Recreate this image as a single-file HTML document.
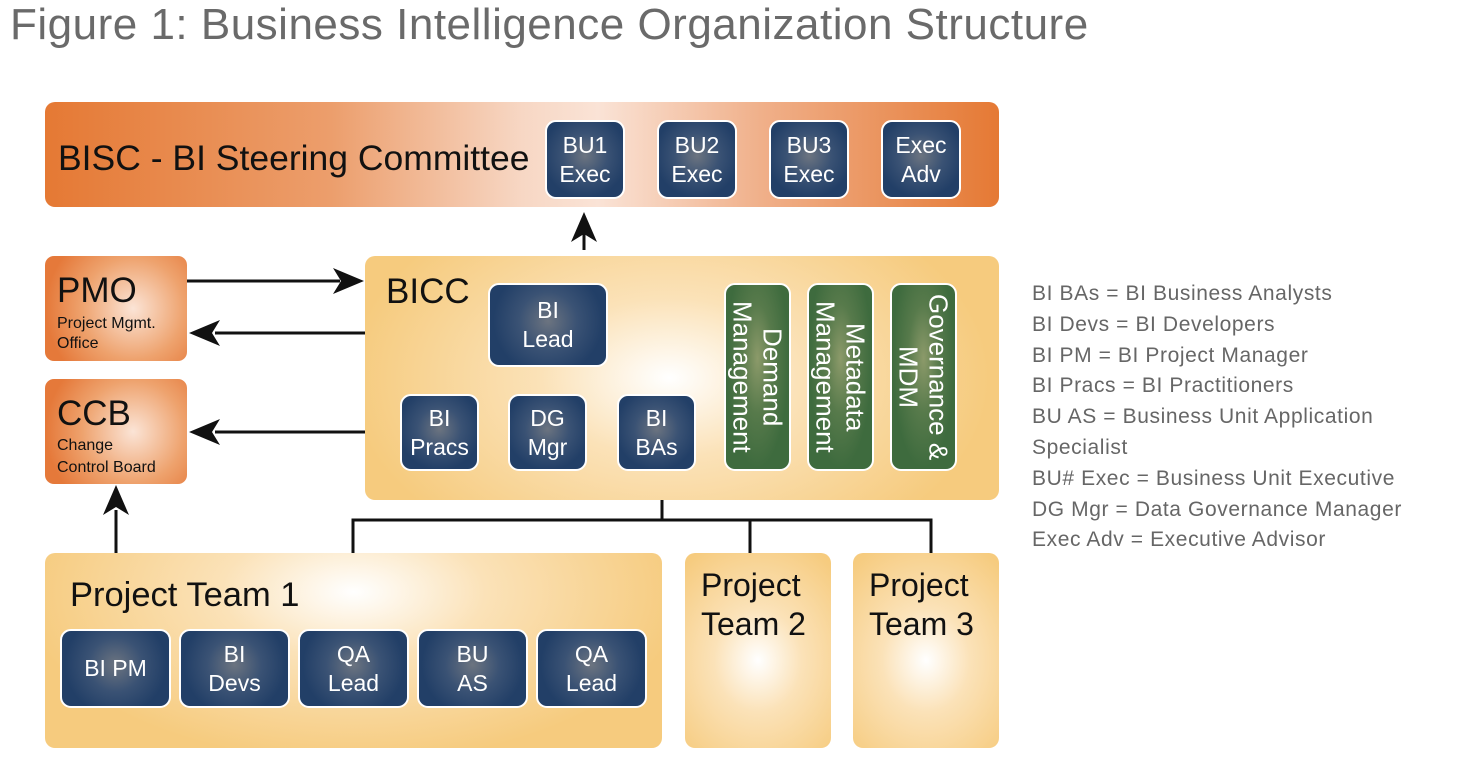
<!DOCTYPE html>
<html><head><meta charset="utf-8"><style>
*{margin:0;padding:0;box-sizing:border-box}
body{width:1468px;height:764px;background:#fff;position:relative;overflow:hidden;font-family:"Liberation Sans",sans-serif}
.a{position:absolute}
.t{position:absolute;left:10px;top:0px;font-size:44px;color:#6a6a6a;letter-spacing:0.5px;white-space:nowrap}
.b{position:absolute;border:2px solid #fff;border-radius:11px;background:radial-gradient(circle at 50% 45%,#6c7480 0%,#3a5274 40%,#223f67 75%);color:#fff;font-size:23px;line-height:29px;display:flex;align-items:center;justify-content:center;text-align:center}
.g{position:absolute;border:2px solid #fff;border-radius:11px;background:radial-gradient(ellipse at 50% 40%,#8c9a6a 0%,#577a4b 35%,#3e6b3e 70%);color:#fff;font-size:26px;line-height:30px;writing-mode:vertical-rl;display:flex;align-items:center;justify-content:center;text-align:center}
.o{position:absolute;border-radius:9px;background:radial-gradient(circle at 62% 50%,#fbe4d6 0%,#eea26d 50%,#e5793a 85%)}
.y{position:absolute;border-radius:10px}
.lg{position:absolute;left:1032px;top:279px;font-size:21px;letter-spacing:0.6px;line-height:30.8px;color:#666;white-space:nowrap}
</style></head><body>
<div class="t">Figure 1: Business Intelligence Organization Structure</div>

<div class="a" style="left:45px;top:102px;width:954px;height:105px;border-radius:10px;background:linear-gradient(90deg,#e57934 0%,#ec9e6c 30%,#f7d7c4 50%,#fae3d6 58%,#f0b08a 75%,#e57934 100%)"></div>
<div class="a" style="left:58px;top:138px;font-size:35.5px;color:#111;white-space:nowrap">BISC - BI Steering Committee</div>
<div class="b" style="left:545px;top:120px;width:80px;height:79px">BU1<br>Exec</div>
<div class="b" style="left:657px;top:120px;width:80px;height:79px">BU2<br>Exec</div>
<div class="b" style="left:769px;top:120px;width:80px;height:79px">BU3<br>Exec</div>
<div class="b" style="left:881px;top:120px;width:80px;height:79px">Exec<br>Adv</div>

<div class="o" style="left:45px;top:256px;width:142px;height:105px"></div>
<div class="a" style="left:57px;top:273px;font-size:35px;color:#111;line-height:36px">PMO</div>
<div class="a" style="left:57px;top:314px;font-size:16px;color:#111;line-height:20px">Project Mgmt.<br>Office</div>
<div class="o" style="left:45px;top:379px;width:142px;height:105px"></div>
<div class="a" style="left:57px;top:396px;font-size:35px;color:#111;line-height:36px">CCB</div>
<div class="a" style="left:57px;top:435px;font-size:16px;color:#111;line-height:22px">Change<br>Control Board</div>

<div class="y" style="left:365px;top:256px;width:634px;height:244px;background:radial-gradient(ellipse 320px 200px at 48% 50%,#fff 0%,#fbe2b8 40%,#f6cb7e 100%)"></div>
<div class="a" style="left:386px;top:272px;font-size:35px;color:#111;line-height:40px">BICC</div>
<div class="b" style="left:488px;top:283px;width:120px;height:84px">BI<br>Lead</div>
<div class="b" style="left:400px;top:394px;width:79px;height:77px">BI<br>Pracs</div>
<div class="b" style="left:508px;top:394px;width:79px;height:77px">DG<br>Mgr</div>
<div class="b" style="left:617px;top:394px;width:79px;height:77px">BI<br>BAs</div>
<div class="g" style="left:724px;top:283px;width:67px;height:188px">Demand<br>Management</div>
<div class="g" style="left:807px;top:283px;width:67px;height:188px">Metadata<br>Management</div>
<div class="g" style="left:890px;top:283px;width:67px;height:188px">Governance &amp;<br>MDM</div>

<div class="y" style="left:45px;top:553px;width:617px;height:195px;background:radial-gradient(ellipse 330px 170px at 50% 20%,#fff 0%,#fbe2b8 40%,#f6cb7e 100%)"></div>
<div class="a" style="left:70px;top:576px;font-size:34.5px;color:#111;line-height:38px">Project Team 1</div>
<div class="b" style="left:60px;top:629px;width:111px;height:79px">BI PM</div>
<div class="b" style="left:179px;top:629px;width:111px;height:79px">BI<br>Devs</div>
<div class="b" style="left:298px;top:629px;width:111px;height:79px">QA<br>Lead</div>
<div class="b" style="left:417px;top:629px;width:111px;height:79px">BU<br>AS</div>
<div class="b" style="left:536px;top:629px;width:111px;height:79px">QA<br>Lead</div>

<div class="y" style="left:685px;top:553px;width:146px;height:195px;background:radial-gradient(ellipse 110px 130px at 50% 55%,#fff 0%,#fbe2b8 40%,#f6cb7e 100%)"></div>
<div class="a" style="left:701px;top:566px;font-size:32px;color:#111;line-height:39px">Project<br>Team 2</div>
<div class="y" style="left:853px;top:553px;width:146px;height:195px;background:radial-gradient(ellipse 110px 130px at 50% 55%,#fff 0%,#fbe2b8 40%,#f6cb7e 100%)"></div>
<div class="a" style="left:869px;top:566px;font-size:32px;color:#111;line-height:39px">Project<br>Team 3</div>

<svg class="a" style="left:0;top:0" width="1468" height="764">
<g stroke="#111" stroke-width="3" fill="none">
<line x1="584" y1="250" x2="584" y2="218"/>
<line x1="187" y1="281" x2="340" y2="281"/>
<line x1="365" y1="333" x2="215" y2="333"/>
<line x1="365" y1="432" x2="215" y2="432"/>
<line x1="116" y1="553" x2="116" y2="510"/>
<polyline points="353,553 353,520 931,520 931,553"/>
<line x1="662" y1="500" x2="662" y2="520"/>
<line x1="750" y1="520" x2="750" y2="553"/>
</g>
<g fill="#111">
<path d="M584,212 L597,242 L584,234 L571,242 Z"/>
<path d="M364,281 L333,268 L341,281 L333,294 Z"/>
<path d="M189,333 L220,320 L212,333 L220,346 Z"/>
<path d="M189,432 L220,419 L212,432 L220,445 Z"/>
<path d="M116,485 L129,515 L116,507 L103,515 Z"/>
</g>
</svg>

<div class="lg">BI BAs = BI Business Analysts<br>BI Devs = BI Developers<br>BI PM = BI Project Manager<br>BI Pracs = BI Practitioners<br>BU AS = Business Unit Application<br>Specialist<br>BU# Exec = Business Unit Executive<br>DG Mgr = Data Governance Manager<br>Exec Adv = Executive Advisor</div>
</body></html>
